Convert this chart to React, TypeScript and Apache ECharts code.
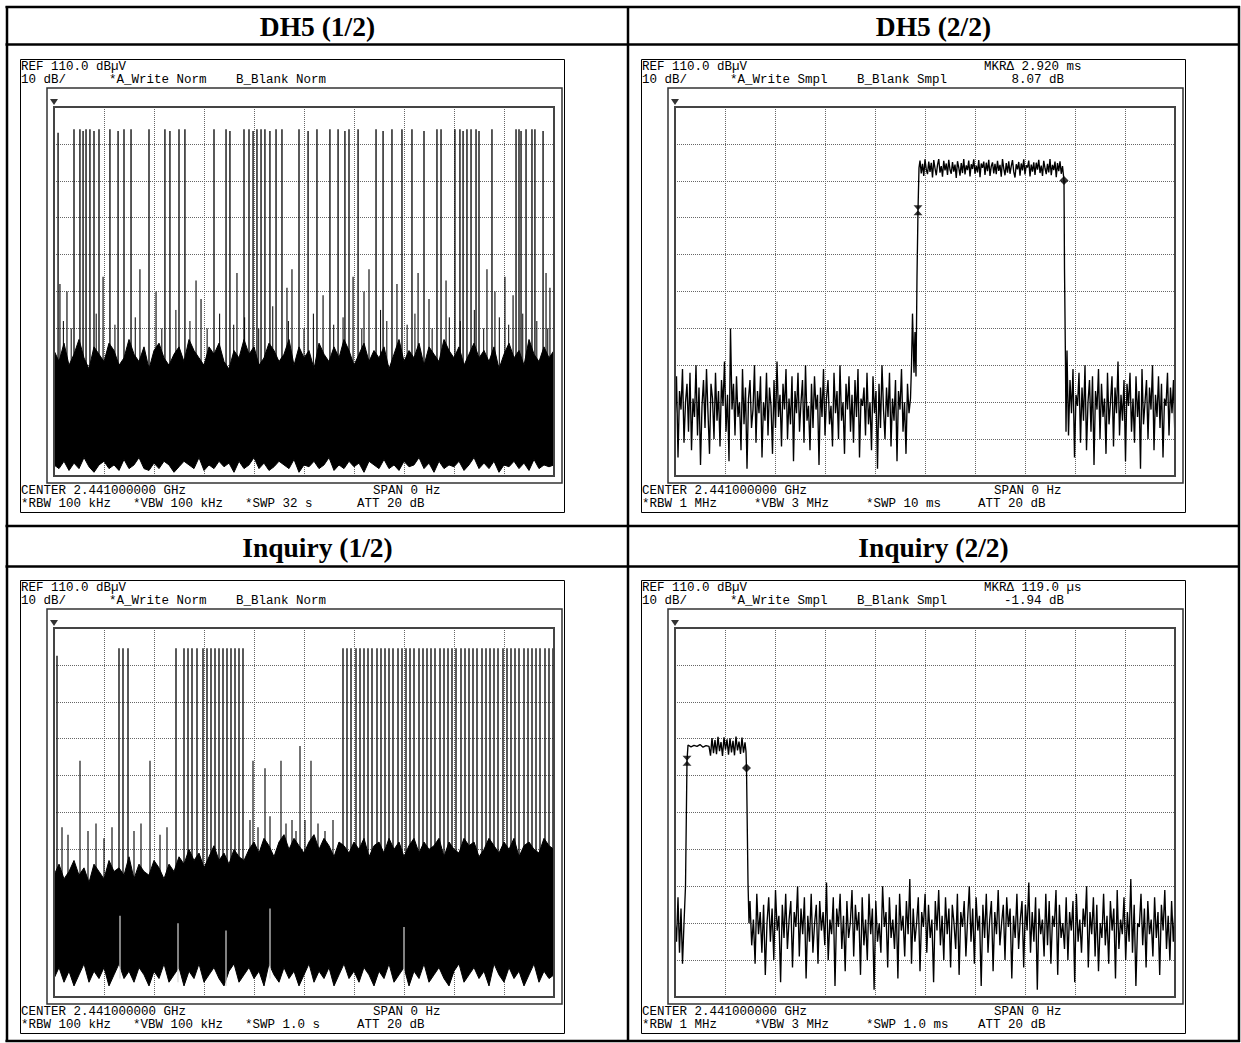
import React, { useEffect, useRef } from "react";
import * as echarts from "echarts";

const PAGE_W = 1241;
const PAGE_H = 1043;

// ---------- Common scale (REF 110 dBµV, 10 dB/div) ----------
const REF_LEVEL = 110;
const BOTTOM_LEVEL = 10;
const DB_PER_DIV = 10;

// ---------- Titles & instrument annotations ----------
const panelTitles = ["DH5 (1/2)", "DH5 (2/2)", "Inquiry (1/2)", "Inquiry (2/2)"];
const refLabel = "REF 110.0 dB\u00b5V";
const scaleLabel = "10 dB/";
const detector = ["Norm", "Smpl", "Norm", "Smpl"];
const markerDelta = ["", "MKR\u0394 2.920 ms", "", "MKR\u0394 119.0 \u00b5s"];
const markerLevel = ["", "8.07 dB", "", "-1.94 dB"];
const centerLabel = "CENTER 2.441000000 GHz";
const spanLabel = "SPAN 0 Hz";
const rbwLabels = ["*RBW 100 kHz", "*RBW 1 MHz", "*RBW 100 kHz", "*RBW 1 MHz"];
const vbwLabels = ["*VBW 100 kHz", "*VBW 3 MHz", "*VBW 100 kHz", "*VBW 3 MHz"];
const swpLabels = ["*SWP 32 s", "*SWP 10 ms", "*SWP 1.0 s", "*SWP 1.0 ms"];
const attLabel = "ATT 20 dB";
const sweepSpan = [32, 10, 1, 1]; // s, ms, s, ms

// ---------- Panel 1: DH5 (1/2), 32 s sweep, envelope every 0.32 s ----------
const p1Step = 0.32;
const p1Hi = [
  44, 41, 46, 40, 43, 47, 42, 39, 45, 43,
  41, 46, 44, 40, 42, 47, 43, 41, 45, 39,
  44, 46, 42, 40, 43, 45, 41, 47, 44, 42,
  40, 45, 43, 46, 41, 39, 44, 42, 47, 43,
  45, 40, 42, 46, 44, 41, 43, 47, 40, 45,
  42, 44, 39, 46, 43, 41, 45, 42, 47, 44,
  40, 43, 46, 41, 44, 42, 45, 39, 43, 47,
  41, 44, 42, 46, 40, 45, 43, 41, 47, 44,
  42, 45, 40, 43, 46, 42, 44, 41, 45, 39,
  43, 46, 42, 44, 40, 47, 43, 41, 45, 42,
  44,
];
const p1Lo = [
  13, 12, 14, 11.5, 13.5, 12, 15, 12.5, 11, 13,
  14, 12, 13, 11.5, 14.5, 12, 13, 15, 12, 11.5,
  13.5, 12, 14, 13, 11, 12.5, 14, 13, 12, 15,
  11.5, 13, 12, 14, 12.5, 13.5, 11, 14, 12, 13,
  15, 12, 13.5, 11.5, 12.5, 14, 13, 12, 14.5, 11,
  13, 12.5, 14, 12, 13, 15, 11.5, 13, 12, 14,
  12.5, 13.5, 11, 14, 13, 12, 14.5, 12, 13, 11.5,
  14, 12.5, 13, 15, 12, 13.5, 11, 14, 12, 13,
  12.5, 14, 11.5, 13, 15, 12, 13.5, 12, 14, 11,
  13, 12.5, 14, 12, 13.5, 11.5, 14.5, 12, 13, 12.5,
  13,
];
const p1SpikeBase = 30;
const p1TallSpikes: [number, number][] = [
  [0.26, 103], [1.28, 104], [1.66, 104], [1.86, 103.5], [2.05, 104], [2.3, 104], [2.56, 103.5],
  [2.88, 104], [3.58, 104], [4.1, 103.5], [4.48, 104], [4.93, 104], [6.08, 104], [7.1, 104],
  [7.42, 103.5], [8.0, 104], [8.38, 104], [10.24, 104], [11.01, 104], [11.26, 103.5],
  [12.16, 104], [12.48, 104], [12.74, 103.5], [12.99, 104], [13.25, 104], [13.5, 104],
  [13.82, 103.5], [14.21, 104], [14.59, 104], [15.68, 104], [16.26, 103.5], [16.83, 104],
  [17.66, 104], [18.18, 104], [18.62, 103.5], [18.88, 104], [19.46, 104], [20.61, 104],
  [21.06, 103.5], [21.63, 104], [22.27, 104], [22.91, 104], [23.68, 103.5], [24.51, 104],
  [24.77, 104], [25.66, 104], [25.98, 104], [26.18, 103.5], [26.43, 104], [26.69, 104],
  [27.01, 104], [27.2, 103.5], [28.03, 104], [29.57, 104], [29.76, 104], [29.89, 103.5],
  [30.21, 104], [30.59, 104], [30.78, 104], [31.3, 103.5],
];
const p1MidSpikes: [number, number][] = [
  [0.38, 62], [0.83, 60], [3.14, 64], [5.5, 66], [6.53, 60], [9.09, 63], [9.41, 58],
  [11.71, 65], [14.91, 61], [15.23, 66], [17.22, 59], [19.14, 64], [19.84, 60], [20.16, 66],
  [21.95, 62], [23.3, 65], [24.0, 58], [25.09, 63], [27.71, 66], [28.22, 60], [28.86, 64],
  [29.38, 59], [31.49, 65], [31.74, 61],
];
const p1SmallSpikes: [number, number][] = [
  [0.6, 52], [1.1, 50], [2.7, 54], [3.9, 51], [5.2, 53], [6.9, 50], [7.8, 55], [8.7, 52],
  [9.8, 50], [10.6, 54], [11.5, 51], [12.2, 53], [13.1, 50], [14.0, 56], [15.0, 52],
  [16.0, 50], [16.6, 54], [17.9, 51], [18.5, 53], [19.7, 50], [20.9, 55], [21.3, 52],
  [22.6, 51], [23.1, 54], [24.2, 50], [25.3, 53], [26.0, 52], [26.9, 55], [27.5, 50],
  [28.5, 53], [29.1, 51], [30.0, 54], [30.9, 52], [31.6, 50],
];

// ---------- Panel 2: DH5 (2/2), 10 ms sweep, trace samples (ms, dBµV) ----------
const p2NoiseStep = 0.03;
const p2NoiseLStart = 0;
const p2NoiseL = [
  24, 37, 15, 33, 28, 39, 19, 30, 35, 22,
  38, 17, 31, 26, 40, 21, 34, 13, 29, 36,
  23, 39, 27, 16, 35, 31, 20, 38, 25, 33,
  18, 36, 29, 41, 22, 32, 14, 50, 28, 35,
  21, 37, 26, 30, 17, 39, 24, 34, 12, 31,
  36, 23, 28, 40, 19, 33, 27, 37, 15, 30,
  25, 38, 21, 34, 29, 16, 36, 23, 41, 26,
  32, 18, 35, 28, 39, 20, 31, 24, 37, 14,
  33, 27, 38, 22, 30, 36, 19, 40, 25, 29,
  17, 35, 23, 37, 28, 32, 13, 34, 26, 39,
  21, 31, 36, 24, 29, 18, 38, 27, 33, 20,
  40, 25, 30, 16, 35, 28, 37, 22, 32, 19,
  36, 26, 39, 15, 31, 29, 34, 21, 38, 24,
  30, 17, 37, 27, 33, 12, 35, 23, 40, 28,
  20, 34, 26, 38, 18, 31, 25, 36, 14, 33,
  28, 39, 22, 30, 16, 35, 27, 31,
];
const p2Rise: [number, number][] = [
  [4.73, 40], [4.75, 54], [4.78, 38], [4.8, 49], [4.82, 37], [4.84, 64], [4.86, 82.0], [4.88, 93.5],
];
const p2PlateauStart = 4.9;
const p2PlateauStep = 0.025;
const p2Plateau = [
  95.5, 92.0, 94.6, 91.3, 95.8, 93.1, 91.8, 95.2, 92.4, 94.9,
  90.9, 95.6, 93.4, 91.5, 94.3, 95.9, 92.2, 94.0, 91.1, 95.4,
  92.8, 94.7, 91.6, 95.7, 93.0, 91.9, 95.1, 92.5, 94.4, 90.8,
  95.3, 93.6, 91.4, 94.8, 92.1, 95.9, 91.7, 94.2, 92.9, 95.5,
  91.2, 94.5, 93.2, 95.8, 91.9, 94.1, 92.3, 95.6, 91.0, 94.7,
  93.5, 95.2, 91.6, 94.9, 92.6, 95.7, 91.3, 93.9, 95.0, 92.0,
  94.6, 91.8, 95.4, 92.7, 94.3, 91.1, 95.9, 93.3, 91.5, 94.8,
  92.2, 95.3, 91.9, 94.0, 95.6, 92.4, 90.9, 94.5, 93.1, 95.1,
  91.4, 94.7, 92.8, 95.8, 91.7, 94.2, 93.6, 95.5, 91.2, 94.4,
  92.5, 95.0, 91.6, 94.9, 93.0, 95.7, 92.1, 94.1, 91.3, 95.4,
  93.4, 91.8, 94.6, 92.3, 95.9, 91.5, 94.3, 92.9, 95.2, 91.0,
  94.8, 92.6, 95.3, 91.9, 94.0,
];
const p2Fall: [number, number][] = [[7.78, 90.07], [7.79, 66], [7.81, 40], [7.82, 22]];
const p2NoiseRStart = 7.84;
const p2NoiseR = [
  44, 21, 36, 27, 39, 15, 32, 29, 38, 19,
  34, 25, 40, 17, 30, 36, 22, 37, 13, 33,
  28, 39, 20, 35, 26, 31, 16, 38, 24, 30,
  37, 18, 34, 27, 41, 21, 32, 25, 36, 14,
  35, 29, 38, 22, 31, 19, 37, 26, 33, 12,
  39, 24, 30, 36, 20, 34, 28, 40, 17, 32,
  26, 37, 23, 35, 15, 31, 29, 38, 21, 34,
  27, 36, 19,
];
const p2RefMarker: [number, number] = [4.86, 82.0];
const p2DeltaMarker: [number, number] = [7.78, 90.07];

// ---------- Panel 3: Inquiry (1/2), 1 s sweep, envelope every 0.01 s ----------
const p3Step = 0.01;
const p3Hi = [
  43, 46, 42, 44, 47, 43, 45, 41, 46, 44,
  42, 47, 44, 45, 43, 48, 42, 46, 44, 43,
  47, 45, 42, 46, 44, 48, 46, 50, 47, 49,
  45, 48, 51, 47, 49, 46, 50, 48, 47, 50,
  52, 49, 53, 51, 48, 52, 54, 50, 53, 51,
  49, 52, 54, 50, 53, 51, 48, 52, 51, 49,
  52, 50, 53, 48, 51, 52, 49, 53, 50, 52,
  48, 51, 53, 49, 52, 50, 51, 53, 48, 52,
  50, 49, 53, 51, 52, 48, 50, 53, 51, 49,
  52, 50, 53, 48, 51, 52, 50, 49, 53, 51,
  50,
];
const p3Lo = [
  15, 18, 14, 17, 13, 16, 19, 14, 17, 15,
  18, 13, 16, 19, 15, 17, 14, 18, 16, 13,
  17, 15, 19, 14, 16, 18, 13, 17, 15, 19,
  14, 16, 18, 15, 13, 17, 19, 14, 16, 18,
  15, 17, 13, 19, 16, 14, 18, 15, 17, 13,
  16, 19, 14, 17, 15, 18, 13, 16, 19, 15,
  17, 14, 18, 16, 13, 17, 15, 19, 14, 16,
  18, 13, 17, 15, 19, 14, 16, 18, 15, 13,
  17, 19, 14, 16, 18, 15, 17, 13, 19, 16,
  14, 18, 15, 17, 13, 16, 19, 14, 17, 15,
  16,
];
const p3SpikeBase = 35;
const p3TallSpikes: [number, number][] = [
  [0.006, 102.5], [0.13, 104.5], [0.138, 104.5], [0.148, 104.5],
  [0.244, 104.5], [0.26, 104.5], [0.268, 104.5], [0.276, 104.5], [0.286, 104.5], [0.298, 104.5],
  [0.306, 104.5], [0.314, 104.5], [0.322, 104.5], [0.33, 104.5], [0.338, 104.5], [0.346, 104.5],
  [0.354, 104.5], [0.362, 104.5], [0.37, 104.5], [0.378, 104.5],
  [0.578, 104.5], [0.586, 104.5], [0.594, 104.5], [0.604, 104.5], [0.612, 104.5], [0.62, 104.5],
  [0.628, 104.5], [0.636, 104.5], [0.646, 104.5], [0.654, 104.5], [0.662, 104.5], [0.67, 104.5],
  [0.678, 104.5], [0.688, 104.5], [0.696, 104.5], [0.704, 104.5], [0.712, 104.5], [0.72, 104.5],
  [0.73, 104.5], [0.738, 104.5], [0.746, 104.5], [0.754, 104.5], [0.762, 104.5], [0.772, 104.5],
  [0.78, 104.5], [0.788, 104.5], [0.796, 104.5], [0.804, 104.5], [0.814, 104.5], [0.822, 104.5],
  [0.83, 104.5], [0.838, 104.5], [0.846, 104.5], [0.856, 104.5], [0.864, 104.5], [0.872, 104.5],
  [0.88, 104.5], [0.888, 104.5], [0.898, 104.5], [0.906, 104.5], [0.914, 104.5], [0.922, 104.5],
  [0.93, 104.5], [0.94, 104.5], [0.948, 104.5], [0.956, 104.5], [0.964, 104.5], [0.972, 104.5],
  [0.982, 104.5], [0.99, 104.5], [0.998, 104.5],
];
const p3MidSpikes: [number, number][] = [
  [0.052, 74], [0.192, 74], [0.398, 74], [0.422, 72], [0.454, 74], [0.492, 78], [0.514, 74],
  [0.016, 56], [0.028, 54], [0.068, 55], [0.084, 57], [0.1, 53], [0.116, 56], [0.16, 55],
  [0.174, 57], [0.212, 54], [0.226, 56], [0.392, 58], [0.408, 56], [0.432, 59], [0.464, 57],
  [0.476, 58], [0.484, 55], [0.502, 58], [0.528, 57], [0.542, 55], [0.558, 58],
];
const p3Gaps: [number, number, number][] = [
  [0.132, 15, 32], [0.248, 14, 30], [0.344, 13, 28], [0.432, 15, 34], [0.7, 14, 29],
];

// ---------- Panel 4: Inquiry (2/2), 1 ms sweep, trace samples (ms, dBµV) ----------
const p4Lead: [number, number][] = [
  [0, 31], [0.003, 25], [0.006, 37], [0.009, 22], [0.012, 34], [0.015, 19], [0.018, 30],
  [0.021, 40], [0.024, 74.0], [0.026, 78.3],
];
const p4Flat: [number, number][] = [
  [0.032, 77.8], [0.038, 78.2], [0.044, 77.9], [0.05, 78.4], [0.056, 77.7], [0.062, 78.1], [0.068, 77.9],
];
const p4BurstStart = 0.071;
const p4BurstStep = 0.003;
const p4Burst = [
  75.4, 80.2, 76.1, 79.6, 75.8, 80.5, 76.6, 79.1, 75.3, 80.4, 77.0, 79.8,
  75.7, 80.1, 76.3, 79.4, 75.5, 80.6, 76.8, 79.2, 75.9, 80.3, 76.2, 79.0,
];
const p4Fall: [number, number][] = [[0.142, 76.5], [0.143, 72.06], [0.146, 41], [0.148, 30]];
const p4NoiseStart = 0.15;
const p4NoiseStep = 0.0034;
const p4Noise = [
  36, 24, 31, 19, 38, 27, 33, 22, 35, 16,
  30, 37, 25, 34, 20, 39, 28, 32, 14, 35,
  26, 38, 23, 31, 36, 18, 33, 29, 40, 21,
  34, 27, 37, 15, 32, 25, 38, 22, 30, 35,
  19, 36, 28, 33, 24, 41, 20, 31, 27, 37,
  13, 34, 29, 38, 23, 32, 17, 36, 26, 30,
  39, 21, 35, 28, 33, 16, 37, 24, 31, 20,
  38, 27, 34, 12, 36, 25, 30, 22, 40, 29,
  33, 18, 37, 26, 31, 23, 35, 15, 38, 28,
  32, 21, 36, 27, 42, 19, 34, 25, 30, 37,
  17, 33, 29, 38, 22, 35, 26, 31, 14, 36,
  28, 39, 24, 32, 20, 37, 27, 34, 18, 35,
  30, 23, 38, 16, 33, 29, 36, 21, 31, 40,
  25, 34, 19, 37, 28, 32, 13, 35, 26, 38,
  22, 31, 36, 17, 33, 27, 39, 24, 30, 35,
  20, 37, 29, 34, 15, 32, 26, 38, 23, 31,
  36, 18, 35, 28, 41, 22, 33, 25, 37, 12,
  34, 27, 31, 21, 38, 24, 36, 19, 32, 29,
  39, 16, 35, 26, 30, 23, 37, 20, 33, 28,
  36, 14, 38, 25, 31, 22, 34, 29, 40, 18,
  33, 27, 37, 21, 35, 17, 30, 26, 38, 24,
  32, 19, 36, 28, 34, 15, 39, 23, 31, 27,
  37, 20, 33, 25, 42, 22, 35, 13, 30, 29,
  38, 24, 34, 18, 36, 27, 31, 21, 37, 26,
  33, 16, 35, 28, 39, 23, 32, 20, 36, 25,
  34,
];
const p4RefMarker: [number, number] = [0.024, 74.0];
const p4DeltaMarker: [number, number] = [0.143, 72.06];

// ---------- Layout ----------
const PLOT_W = 500;
const PLOT_H = 369;
const plotLeft = [54, 675, 54, 675];
const plotTop = [107, 107, 628, 628];
const MONO = '12.5px "Liberation Mono", "DejaVu Sans Mono", monospace';
const TITLE_FONT = 'bold 27.5px "Liberation Serif", "DejaVu Serif", serif';
const HOURGLASS = "path://M0,0L10,0L5,5L10,10L0,10L5,5Z";
const REF_ARROW = "path://M0,0L10,0L5,7Z";

function seq(start: number, step: number, vals: number[]): [number, number][] {
  return vals.map((v, i) => [start + i * step, v]);
}

function massSeries(gi: number, step: number, hi: number[], lo: number[]) {
  return {
    type: "custom",
    coordinateSystem: "cartesian2d",
    xAxisIndex: gi,
    yAxisIndex: gi,
    silent: true,
    data: [[0, BOTTOM_LEVEL]],
    renderItem: (_p: any, api: any) => {
      const pts: number[][] = [];
      hi.forEach((v, i) => pts.push(api.coord([i * step, v])));
      for (let i = lo.length - 1; i >= 0; i--) pts.push(api.coord([i * step, lo[i]]));
      return {
        type: "polygon",
        shape: { points: pts },
        style: { fill: "#000", stroke: "#000", lineWidth: 1 },
      };
    },
  };
}

function spikeSeries(gi: number, spikes: [number, number][], base: number, color = "#000", width = 1.3) {
  return {
    type: "custom",
    coordinateSystem: "cartesian2d",
    xAxisIndex: gi,
    yAxisIndex: gi,
    silent: true,
    data: spikes.map(([t, pk]) => [t, pk, base]),
    renderItem: (_p: any, api: any) => {
      const a = api.coord([api.value(0), api.value(2)]);
      const b = api.coord([api.value(0), api.value(1)]);
      return {
        type: "line",
        shape: { x1: a[0], y1: a[1], x2: b[0], y2: b[1] },
        style: { stroke: color, lineWidth: width },
      };
    },
  };
}

function gapSeries(gi: number, gaps: [number, number, number][]) {
  return {
    type: "custom",
    coordinateSystem: "cartesian2d",
    xAxisIndex: gi,
    yAxisIndex: gi,
    silent: true,
    data: gaps.map(([t, a, b]) => [t, a, b]),
    renderItem: (_p: any, api: any) => {
      const a = api.coord([api.value(0), api.value(1)]);
      const b = api.coord([api.value(0), api.value(2)]);
      return {
        type: "line",
        shape: { x1: a[0], y1: a[1], x2: b[0], y2: b[1] },
        style: { stroke: "#d8d8d8", lineWidth: 1.2 },
      };
    },
  };
}

function traceSeries(gi: number, data: [number, number][]) {
  return {
    type: "line",
    xAxisIndex: gi,
    yAxisIndex: gi,
    data,
    symbol: "none",
    showSymbol: false,
    silent: true,
    lineStyle: { color: "#000", width: 1.35 },
  };
}

function markerSeries(gi: number, ref: [number, number], delta: [number, number]) {
  return {
    type: "scatter",
    xAxisIndex: gi,
    yAxisIndex: gi,
    silent: true,
    itemStyle: { color: "#000" },
    data: [
      { value: ref, symbol: HOURGLASS, symbolSize: [9, 10] },
      { value: delta, symbol: "diamond", symbolSize: 9 },
    ],
  };
}

function refArrowSeries(gi: number) {
  return {
    type: "scatter",
    xAxisIndex: gi,
    yAxisIndex: gi,
    silent: true,
    clip: false,
    itemStyle: { color: "#000" },
    symbol: REF_ARROW,
    symbolSize: [8, 6],
    symbolOffset: [0, -5],
    data: [[0, REF_LEVEL]],
  };
}

function txt(x: number, y: number, text: string, font: string, align = "left") {
  return {
    type: "text",
    x,
    y,
    silent: true,
    z: 20,
    style: {
      text,
      font,
      fill: "#000",
      align,
      verticalAlign: "middle",
      textAlign: align,
      textVerticalAlign: "middle",
    },
  };
}

function hline(x1: number, x2: number, y: number, w: number) {
  return { type: "line", silent: true, z: 20, shape: { x1, y1: y, x2, y2: y }, style: { stroke: "#000", lineWidth: w } };
}
function vline(x: number, y1: number, y2: number, w: number) {
  return { type: "line", silent: true, z: 20, shape: { x1: x, y1, x2: x, y2 }, style: { stroke: "#000", lineWidth: w } };
}
function box(x: number, y: number, w: number, h: number, stroke: string, lw: number) {
  return { type: "rect", silent: true, z: 20, shape: { x, y, width: w, height: h }, style: { fill: "none", stroke, lineWidth: lw } };
}

function buildOption() {
  const graphics: any[] = [];
  // table
  graphics.push(hline(5.5, 1240, 7, 2.5));
  graphics.push(hline(5.5, 1240, 1041, 2.5));
  graphics.push(vline(7, 6, 1042, 2.5));
  graphics.push(vline(1239, 6, 1042, 2.5));
  graphics.push(vline(628, 6, 1042, 2.5));
  graphics.push(hline(5.5, 1240, 44.5, 2.5));
  graphics.push(hline(5.5, 1240, 526, 2.5));
  graphics.push(hline(5.5, 1240, 566.5, 2.5));
  // titles
  const titleX = [317.5, 933.5, 317.5, 933.5];
  const titleY = [26, 26, 547, 547];
  panelTitles.forEach((t, i) => graphics.push(txt(titleX[i], titleY[i], t, TITLE_FONT, "center")));

  for (let i = 0; i < 4; i++) {
    const l = plotLeft[i];
    const t = plotTop[i];
    const x0 = l - 33;
    graphics.push(box(l - 33.5, t - 47.5, 544, 453, "#000", 1));
    graphics.push(box(l - 7, t - 19, 515, 395, "#333", 1.5));
    graphics.push(box(l, t, PLOT_W, PLOT_H, "#444", 2));
    const y1 = t - 40;
    const y2 = t - 27;
    graphics.push(txt(x0, y1, refLabel, MONO));
    graphics.push(txt(x0, y2, scaleLabel, MONO));
    graphics.push(txt(x0 + 88, y2, "*A_Write " + detector[i], MONO));
    graphics.push(txt(x0 + 215, y2, "B_Blank " + detector[i], MONO));
    if (markerDelta[i]) {
      graphics.push(txt(x0 + 342, y1, markerDelta[i], MONO));
      graphics.push(txt(x0 + 422, y2, markerLevel[i], MONO, "right"));
    }
    const b1 = t + PLOT_H + 15;
    const b2 = t + PLOT_H + 28;
    graphics.push(txt(x0, b1, centerLabel, MONO));
    graphics.push(txt(x0 + 352, b1, spanLabel, MONO));
    graphics.push(txt(x0, b2, rbwLabels[i], MONO));
    graphics.push(txt(x0 + 112, b2, vbwLabels[i], MONO));
    graphics.push(txt(x0 + 224, b2, swpLabels[i], MONO));
    graphics.push(txt(x0 + 336, b2, attLabel, MONO));
  }

  const grids = plotLeft.map((l, i) => ({ left: l, top: plotTop[i], width: PLOT_W, height: PLOT_H, show: false }));
  const gridLine = { show: true, lineStyle: { type: [1, 1], color: "#666", width: 1 } };
  const xAxes = sweepSpan.map((s, i) => ({
    gridIndex: i,
    type: "value",
    min: 0,
    max: s,
    interval: s / 10,
    axisLine: { show: false },
    axisTick: { show: false },
    axisLabel: { show: false },
    splitLine: gridLine,
  }));
  const yAxes = sweepSpan.map((_s, i) => ({
    gridIndex: i,
    type: "value",
    min: BOTTOM_LEVEL,
    max: REF_LEVEL,
    interval: DB_PER_DIV,
    axisLine: { show: false },
    axisTick: { show: false },
    axisLabel: { show: false },
    splitLine: gridLine,
  }));

  const p2Trace: [number, number][] = [
    ...seq(p2NoiseLStart, p2NoiseStep, p2NoiseL),
    ...p2Rise,
    ...seq(p2PlateauStart, p2PlateauStep, p2Plateau),
    ...p2Fall,
    ...seq(p2NoiseRStart, p2NoiseStep, p2NoiseR),
  ];
  const p4Trace: [number, number][] = [
    ...p4Lead,
    ...p4Flat,
    ...seq(p4BurstStart, p4BurstStep, p4Burst),
    ...p4Fall,
    ...seq(p4NoiseStart, p4NoiseStep, p4Noise),
  ];

  const series: any[] = [
    massSeries(0, p1Step, p1Hi, p1Lo),
    spikeSeries(0, p1SmallSpikes, p1SpikeBase, "#000", 1),
    spikeSeries(0, p1MidSpikes, p1SpikeBase, "#000", 1.1),
    spikeSeries(0, p1TallSpikes, p1SpikeBase, "#000", 1.3),
    refArrowSeries(0),

    traceSeries(1, p2Trace),
    markerSeries(1, p2RefMarker, p2DeltaMarker),
    refArrowSeries(1),

    massSeries(2, p3Step, p3Hi, p3Lo),
    gapSeries(2, p3Gaps),
    spikeSeries(2, p3MidSpikes, p3SpikeBase, "#000", 1.1),
    spikeSeries(2, p3TallSpikes, p3SpikeBase, "#000", 1.3),
    refArrowSeries(2),

    traceSeries(3, p4Trace),
    markerSeries(3, p4RefMarker, p4DeltaMarker),
    refArrowSeries(3),
  ];

  return {
    animation: false,
    backgroundColor: "#fff",
    grid: grids,
    xAxis: xAxes,
    yAxis: yAxes,
    series,
    graphic: { elements: graphics },
  };
}

export default function App() {
  const ref = useRef<HTMLDivElement>(null);
  useEffect(() => {
    if (!ref.current) return;
    const chart = echarts.init(ref.current, undefined, { renderer: "svg", width: PAGE_W, height: PAGE_H });
    chart.setOption(buildOption() as any);
    return () => chart.dispose();
  }, []);
  return (
    <div
      ref={ref}
      style={{ position: "absolute", left: 0, top: 0, width: PAGE_W, height: PAGE_H, background: "#fff" }}
    />
  );
}
